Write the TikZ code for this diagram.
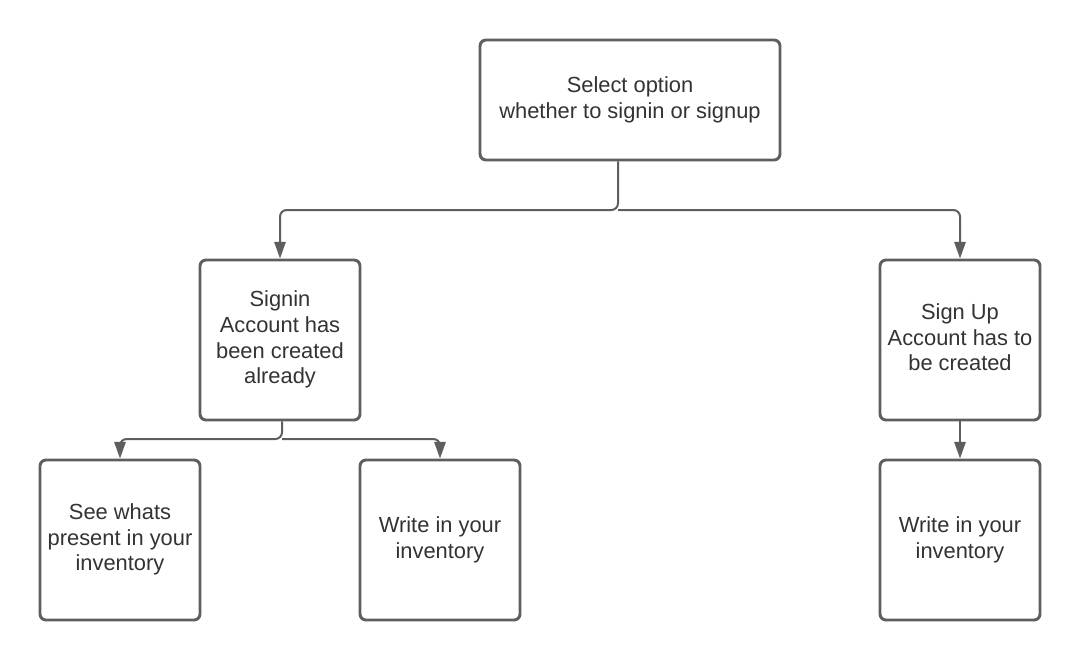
\documentclass[tikz,border=0pt]{standalone}
\usepackage{fontspec}
\setmainfont{Liberation Sans}
\usetikzlibrary{arrows.meta}
\definecolor{linegray}{HTML}{5E5E5E}
\definecolor{txtgray}{HTML}{333333}
\begin{document}
\begin{tikzpicture}[x=0.75pt,y=-0.75pt,
  box/.style={draw=linegray,line width=2.2pt,rounded corners=4.5pt,fill=white,
    inner sep=0pt,align=center,text=txtgray,
    font=\fontsize{16.4}{19.3}\selectfont},
  conn/.style={draw=linegray,line width=1.5pt,rounded corners=5pt,
    -{Triangle[length=12.5pt,width=8.5pt]}}]
\useasboundingbox (0,0) rectangle (1080,660);
\fill[white] (0,0) rectangle (1080,660);

\node[box,minimum width=225pt,minimum height=90pt] (sel) at (630,100)
  {Select option\strut\\whether to signin or signup\strut};
\node[box,minimum width=120pt,minimum height=120pt] (signin) at (280,340)
  {Signin\strut\\Account has\strut\\been created\strut\\already\strut};
\node[box,minimum width=120pt,minimum height=120pt] (signup) at (960,340)
  {Sign Up\strut\\Account has to\strut\\be created\strut};
\node[box,minimum width=120pt,minimum height=120pt] (see) at (120,540)
  {See whats\strut\\present in your\strut\\inventory\strut};
\node[box,minimum width=120pt,minimum height=120pt] (write1) at (440,540)
  {Write in your\strut\\inventory\strut};
\node[box,minimum width=120pt,minimum height=120pt] (write2) at (960,540)
  {Write in your\strut\\inventory\strut};

\coordinate (j1) at (618,210);
\coordinate (j2) at (282,439);

\draw[conn] (sel.south -| j1) -- (j1) -| (signin.north);
\draw[conn] (j1) -| (signup.north);
\draw[conn] (signin.south -| j2) -- (j2) -| (see.north);
\draw[conn] (j2) -| (write1.north);
\draw[conn] (signup.south) -- (write2.north);
\end{tikzpicture}
\end{document}
